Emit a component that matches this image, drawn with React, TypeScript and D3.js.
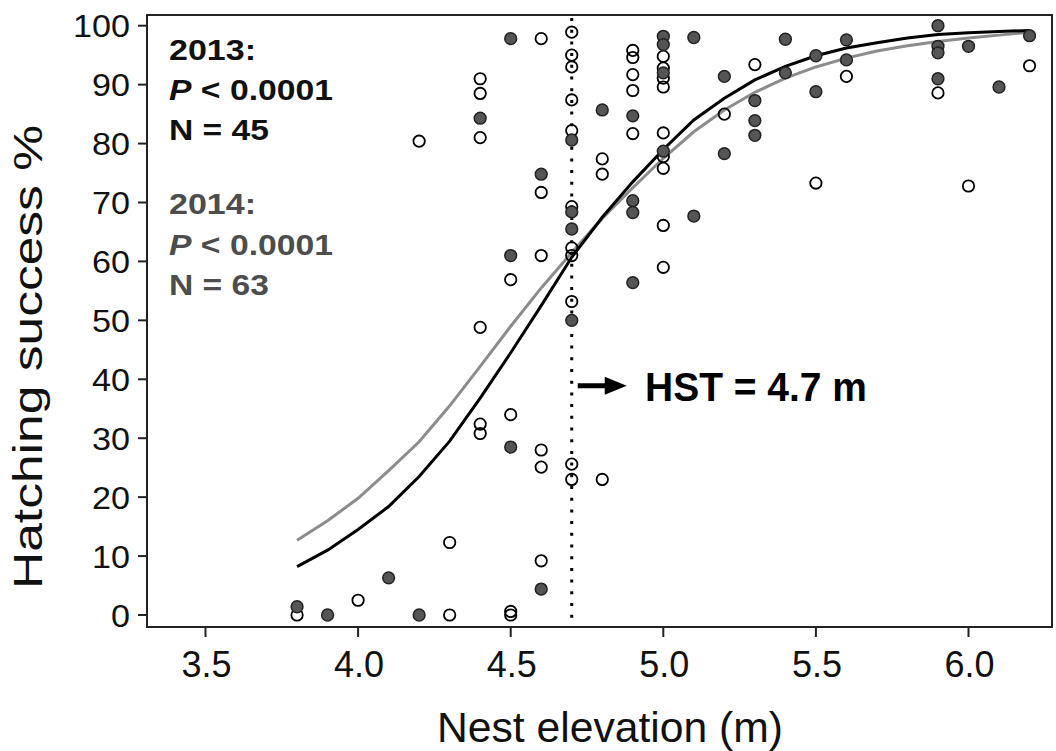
import React from "react";
import * as d3 from "d3";

// ---- data ----
const xTicks = [3.5, 4.0, 4.5, 5.0, 5.5, 6.0];
const yTicks = [0, 10, 20, 30, 40, 50, 60, 70, 80, 90, 100];

// 2013 nests (filled circles)
const elev2013 = [3.8, 3.9, 4.1, 4.2, 4.4, 4.5, 4.5, 4.5, 4.6, 4.6, 4.7, 4.7, 4.7, 4.7, 4.8, 4.9, 4.9, 4.9, 4.9, 5.0, 5.0, 5.0, 5.0, 5.1, 5.1, 5.2, 5.2, 5.3, 5.3, 5.3, 5.4, 5.4, 5.5, 5.5, 5.6, 5.6, 5.9, 5.9, 5.9, 5.9, 6.0, 6.1, 6.2];
const hatch2013 = [1.4, 0, 6.3, 0, 84.3, 97.8, 61, 28.5, 74.8, 4.4, 80.6, 68.4, 65.5, 50, 85.7, 84.7, 70.3, 68.3, 56.4, 98.2, 96.8, 92.0, 78.7, 98, 67.7, 91.4, 78.3, 87.3, 83.9, 81.4, 97.7, 92, 94.9, 88.8, 97.6, 94.2, 100, 96.5, 95.4, 91, 96.5, 89.6, 98.3];

// 2014 nests (open circles)
const elev2014 = [3.8, 4.0, 4.2, 4.3, 4.3, 4.4, 4.4, 4.4, 4.4, 4.4, 4.4, 4.5, 4.5, 4.5, 4.5, 4.6, 4.6, 4.6, 4.6, 4.6, 4.6, 4.7, 4.7, 4.7, 4.7, 4.7, 4.7, 4.7, 4.7, 4.7, 4.7, 4.7, 4.8, 4.8, 4.8, 4.9, 4.9, 4.9, 4.9, 4.9, 5.0, 5.0, 5.0, 5.0, 5.0, 5.0, 5.0, 5.0, 5.0, 5.2, 5.3, 5.5, 5.6, 5.9, 6.0, 6.2];
const hatch2014 = [0, 2.5, 80.4, 0, 12.3, 91, 88.5, 81, 48.8, 32.4, 30.8, 56.9, 34, 0.6, 0, 97.8, 71.7, 61, 28, 25.1, 9.2, 98.9, 95, 93, 87.4, 82.2, 69.3, 62.3, 61, 53.2, 25.6, 23, 77.4, 74.8, 23, 95.8, 94.6, 91.7, 89, 81.7, 94.8, 92.8, 91.1, 89.6, 81.8, 77.8, 75.8, 66.1, 59, 85, 93.4, 73.3, 91.4, 88.6, 72.8, 93.2];

// fitted curves
const curveElev = [3.8, 3.9, 4.0, 4.1, 4.2, 4.3, 4.4, 4.5, 4.6, 4.7, 4.8, 4.9, 5.0, 5.1, 5.2, 5.3, 5.4, 5.5, 5.6, 5.7, 5.8, 5.9, 6.0, 6.1, 6.2];
const curve2013 = [8.2, 11.0, 14.5, 18.4, 23.5, 29.5, 36.8, 44.5, 52.5, 60.7, 67.5, 73.5, 79.0, 84.0, 87.7, 90.8, 93.1, 94.9, 96.2, 97.1, 97.9, 98.5, 98.8, 99.0, 99.2];
const curve2014 = [12.7, 16.0, 19.8, 24.5, 29.4, 35.5, 42.2, 49.0, 55.5, 61.5, 67.3, 72.5, 77.5, 82.0, 85.7, 88.7, 91.1, 93.0, 94.5, 95.7, 96.6, 97.3, 97.9, 98.4, 98.9];

const hst = 4.7;

const FONT = "'Liberation Sans', Arial, Helvetica, sans-serif";

export default function App() {
  const W = 1056;
  const H = 751;
  const left = 147, right = 1052, top = 15, bottom = 627;

  const x = d3.scaleLinear().domain([3.5, 6.0]).range([205.5, 968.5]);
  const y = d3.scaleLinear().domain([0, 100]).range([615, 25.7]);

  const line = d3
    .line<number>()
    .x((_, i) => x(curveElev[i]))
    .y((d) => y(d))
    .curve(d3.curveLinear);

  const xh = x(hst);
  const arrowY = 385.7;

  return (
    <svg
      width={W}
      height={H}
      style={{ position: "absolute", left: 0, top: 0, background: "#fff" }}
      fontFamily={FONT}
    >
      <rect x={0} y={0} width={W} height={H} fill="#fff" />

      {/* curves */}
      <path d={line(curve2014) || ""} fill="none" stroke="#8c8c8c" strokeWidth={3} />
      <path d={line(curve2013) || ""} fill="none" stroke="#000" strokeWidth={3} />

      {/* HST dotted line */}
      <line
        x1={xh}
        x2={xh}
        y1={top + 3}
        y2={bottom - 2}
        stroke="#000"
        strokeWidth={3}
        strokeDasharray="3 8.7"
      />

      {/* 2014 open points */}
      {elev2014.map((e, i) => (
        <circle
          key={"o" + i}
          cx={x(e)}
          cy={y(hatch2014[i])}
          r={5.7}
          fill="none"
          stroke="#000"
          strokeWidth={1.8}
        />
      ))}
      {/* 2013 filled points */}
      {elev2013.map((e, i) => (
        <circle
          key={"f" + i}
          cx={x(e)}
          cy={y(hatch2013[i])}
          r={5.9}
          fill="#555"
          stroke="#222"
          strokeWidth={1.5}
        />
      ))}

      {/* frame */}
      <rect
        x={left}
        y={top}
        width={right - left}
        height={bottom - top}
        fill="none"
        stroke="#222"
        strokeWidth={2}
      />

      {/* y ticks */}
      {yTicks.map((t) => (
        <g key={"y" + t}>
          <line x1={left - 9} x2={left} y1={y(t)} y2={y(t)} stroke="#222" strokeWidth={2} />
          <text
            x={130}
            y={y(t) + 11.5}
            textAnchor="end"
            fontSize={32}
            fill="#111"
            textLength={String(t).length * 19}
            lengthAdjust="spacingAndGlyphs"
          >
            {t}
          </text>
        </g>
      ))}

      {/* x ticks */}
      {xTicks.map((t) => (
        <g key={"x" + t}>
          <line x1={x(t)} x2={x(t)} y1={bottom} y2={bottom + 10} stroke="#222" strokeWidth={2} />
          <text x={x(t) + 1} y={677} textAnchor="middle" fontSize={36} fill="#111">
            {t.toFixed(1)}
          </text>
        </g>
      ))}

      {/* axis titles */}
      <text
        x={610}
        y={742}
        textAnchor="middle"
        fontSize={42}
        fill="#111"
        textLength={346}
        lengthAdjust="spacingAndGlyphs"
      >
        Nest elevation (m)
      </text>
      <text
        transform="translate(42,357) rotate(-90)"
        textAnchor="middle"
        fontSize={41}
        fill="#111"
        textLength={464}
        lengthAdjust="spacingAndGlyphs"
      >
        Hatching success %
      </text>

      {/* annotations 2013 */}
      <g fontWeight="bold" fontSize={30}>
        <text x={169} y={60} fill="#111" textLength={87} lengthAdjust="spacingAndGlyphs">
          2013:
        </text>
        <text x={169} y={100} fill="#111" textLength={164} lengthAdjust="spacingAndGlyphs">
          <tspan fontStyle="italic">P</tspan> &lt; 0.0001
        </text>
        <text x={169} y={139.5} fill="#111" textLength={100} lengthAdjust="spacingAndGlyphs">
          N = 45
        </text>
        <text x={169} y={214} fill="#4d4d4d" textLength={87} lengthAdjust="spacingAndGlyphs">
          2014:
        </text>
        <text x={169} y={254.5} fill="#4d4d4d" textLength={164} lengthAdjust="spacingAndGlyphs">
          <tspan fontStyle="italic">P</tspan> &lt; 0.0001
        </text>
        <text x={169} y={294.5} fill="#4d4d4d" textLength={100} lengthAdjust="spacingAndGlyphs">
          N = 63
        </text>
      </g>

      {/* HST arrow + label */}
      <line x1={xh + 6} x2={xh + 38} y1={arrowY} y2={arrowY} stroke="#000" strokeWidth={5} />
      <path
        d={`M${xh + 33},${arrowY - 9} L${xh + 55},${arrowY} L${xh + 33},${arrowY + 9} Z`}
        fill="#000"
      />
      <text
        x={645}
        y={401}
        fontWeight="bold"
        fontSize={41}
        fill="#000"
        textLength={222}
        lengthAdjust="spacingAndGlyphs"
      >
        HST = 4.7 m
      </text>
    </svg>
  );
}
